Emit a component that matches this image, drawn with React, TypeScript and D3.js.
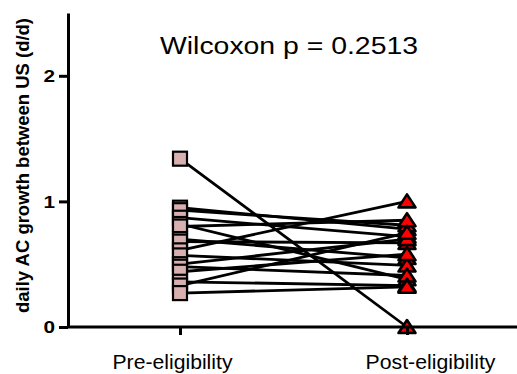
import { useEffect, useRef } from 'react'
import * as d3 from 'd3'

const groups = ['Pre-eligibility', 'Post-eligibility']
const preValues = [1.34, 0.95, 0.93, 0.87, 0.82, 0.8, 0.7, 0.68, 0.61, 0.57, 0.5, 0.48, 0.44, 0.36, 0.33, 0.27]
const postValues = [0.0, 0.78, 0.81, 0.72, 0.38, 0.85, 0.55, 0.67, 1.0, 0.49, 0.7, 0.41, 0.58, 0.33, 0.75, 0.32]
const yTicks = [0, 1, 2]
const title = 'Wilcoxon p = 0.2513'
const yLabel = 'daily AC growth between US (d/d)'

function App() {
  const svgRef = useRef<SVGSVGElement>(null)

  useEffect(() => {
    const width = 517
    const height = 374
    const margin = { top: 13, right: 0, bottom: 47, left: 68 }

    const svg = d3.select(svgRef.current)
    svg.selectAll('*').remove()
    svg.attr('width', width).attr('height', height)

    const x = d3.scalePoint<string>()
      .domain(groups)
      .range([180, 407])

    const y = d3.scaleLinear()
      .domain([0, 2.5])
      .range([height - margin.bottom, margin.top])

    const font = 'Liberation Sans, Arial, sans-serif'

    // paired lines
    svg.append('g')
      .selectAll('line')
      .data(preValues)
      .join('line')
      .attr('x1', x(groups[0])!)
      .attr('y1', d => y(d))
      .attr('x2', x(groups[1])!)
      .attr('y2', (_, i) => y(postValues[i]))
      .attr('stroke', '#000')
      .attr('stroke-width', 2.8)

    // pre squares
    const s = 14
    svg.append('g')
      .selectAll('rect')
      .data(preValues)
      .join('rect')
      .attr('x', x(groups[0])! - s / 2)
      .attr('y', d => y(d) - s / 2)
      .attr('width', s)
      .attr('height', s)
      .attr('fill', '#d8b0b0')
      .attr('stroke', '#000')
      .attr('stroke-width', 2.2)

    // post triangles, a bit wider than tall
    const triW = 17
    const triH = 12
    const triPath = `M0,${-triH / 2 - 1}L${triW / 2},${triH / 2}L${-triW / 2},${triH / 2}Z`
    svg.append('g')
      .selectAll('path')
      .data(postValues)
      .join('path')
      .attr('d', triPath)
      .attr('transform', d => `translate(${x(groups[1])},${y(d)})`)
      .attr('fill', '#ff0000')
      .attr('stroke', '#000')
      .attr('stroke-width', 2.6)
      .attr('stroke-linejoin', 'round')

    // y axis
    const yAxis = svg.append('g')
      .attr('transform', `translate(${margin.left},0)`)
      .call(d3.axisLeft(y).tickValues(yTicks).tickFormat(d3.format('d')).tickSize(9).tickSizeOuter(0))
    yAxis.select('.domain').attr('stroke-width', 3)
    yAxis.selectAll('.tick line').attr('stroke-width', 3)
    yAxis.selectAll('.tick text')
      .attr('font-family', font)
      .attr('font-size', 16)
      .attr('font-weight', 'bold')
      .attr('fill', '#000')
      .attr('x', -10)
      .attr('transform', 'scale(1.3,1)')
      .attr('dy', '0.36em')

    // x axis
    const xAxis = svg.append('g')
      .attr('transform', `translate(0,${y(0)})`)
      .call(d3.axisBottom(x).tickSize(8).tickSizeOuter(0))
    xAxis.select('.domain')
      .attr('d', `M${margin.left},0H${width}`)
      .attr('stroke-width', 3)
    xAxis.selectAll('.tick line').attr('stroke-width', 3)
    xAxis.selectAll('.tick text')
      .attr('font-family', font)
      .attr('font-size', 20)
      .attr('fill', '#000')
      .attr('y', 42)
      .attr('dy', 0)
      .attr('x', (_, i) => (i === 0 ? -8 : 23))
      .attr('textLength', (_, i) => (i === 0 ? 120 : 130))
      .attr('lengthAdjust', 'spacingAndGlyphs')

    svg.append('text')
      .attr('x', 289)
      .attr('y', 54)
      .attr('text-anchor', 'middle')
      .attr('font-family', font)
      .attr('font-size', 23.5)
      .attr('textLength', 258)
      .attr('lengthAdjust', 'spacingAndGlyphs')
      .text(title)

    svg.append('text')
      .attr('transform', `translate(29,165.5) rotate(-90)`)
      .attr('text-anchor', 'middle')
      .attr('font-family', font)
      .attr('font-size', 19)
      .attr('font-weight', 'bold')
      .attr('textLength', 295)
      .attr('lengthAdjust', 'spacingAndGlyphs')
      .text(yLabel)
  }, [])

  return (
    <div style={{ position: 'absolute', left: 0, top: 0 }}>
      <svg ref={svgRef}></svg>
    </div>
  )
}

export default App
